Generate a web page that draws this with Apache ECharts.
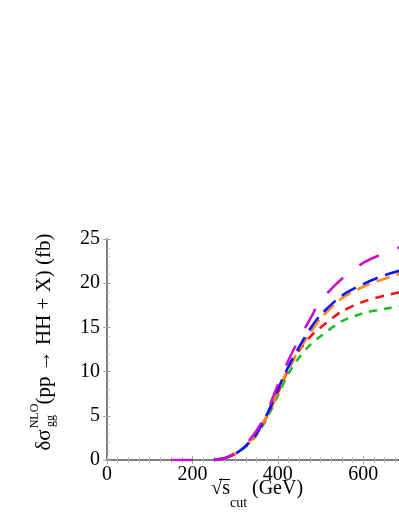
<!DOCTYPE html>
<html>
<head>
<meta charset="utf-8">
<script src="https://cdn.jsdelivr.net/npm/echarts@6/dist/echarts.min.js"></script>
<style>
  html, body { margin: 0; padding: 0; background: #fff; }
  #main { width: 399px; height: 516px; }
</style>
</head>
<body>
<div id="main"></div>
<script>
const xCut = [250, 275, 300, 325, 350, 375, 400, 425, 450, 475, 500, 550, 600, 650, 700]
const xMagenta = [150, 200, 250, 275, 300, 325, 350, 375, 400, 425, 450, 475, 500, 550, 600, 650, 700]
const magenta = [0, 0, 0, 0.2, 0.8, 1.8, 3.3, 5.5, 8.5, 11.3, 13.7, 15.9, 18.0, 20.5, 22.3, 23.4, 24.3]
const blue = [0, 0.2, 0.7, 1.6, 3.0, 5.2, 8.0, 10.6, 12.8, 14.8, 16.4, 18.6, 19.9, 20.9, 21.6]
const orange = [0, 0.2, 0.7, 1.6, 3.0, 5.1, 7.8, 10.4, 12.5, 14.3, 16.0, 18.3, 19.6, 20.5, 21.3]
const red = [0, 0.2, 0.7, 1.6, 2.9, 5.0, 7.6, 10.3, 12.4, 13.9, 15.0, 16.8, 17.9, 18.6, 19.1]
const green = [0, 0.2, 0.7, 1.5, 2.8, 4.8, 7.3, 9.8, 11.6, 13.0, 14.0, 15.7, 16.6, 17.1, 17.5]
const yTicks = [0, 5, 10, 15, 20, 25]

function pairs(xs, ys) {
  return xs.map(function (x, i) { return [x, ys[i]] })
}

const chart = echarts.init(document.getElementById('main'), null, { renderer: 'canvas' })
const serif = 'Liberation Serif'
const frame = { show: true, lineStyle: { color: '#777', width: 1.5 } }
const majorTick = { show: true, inside: true, length: 4, lineStyle: { color: '#aaa', width: 1 } }
const minorTick = { show: true, splitNumber: 8, length: 3, lineStyle: { color: '#bbb', width: 1 } }

function line(name, data, color, dash) {
  return {
    name: name,
    type: 'line',
    data: data,
    smooth: 0.3,
    symbol: 'none',
    xAxisIndex: 0,
    yAxisIndex: 0,
    lineStyle: { color: color, width: 2.6, type: dash },
    z: 3,
  }
}

const option = {
  backgroundColor: '#fff',
  animation: false,
  grid: { left: 107, top: 239, width: 299, height: 221, containLabel: false, outerBoundsMode: 'none' },
  xAxis: [
    {
      type: 'value', min: 0, max: 700, interval: 200,
      axisLine: frame, axisTick: majorTick, minorTick: minorTick,
      splitLine: { show: false },
      axisLabel: { color: '#000', fontFamily: serif, fontSize: 20, margin: 5, showMaxLabel: false },
    },
    {
      type: 'value', position: 'top', min: 0, max: 700, interval: 200,
      axisLine: frame, axisTick: majorTick, minorTick: minorTick,
      splitLine: { show: false }, axisLabel: { show: false },
    },
  ],
  yAxis: [
    {
      type: 'value', min: 0, max: 25, interval: 5,
      axisLine: frame, axisTick: majorTick,
      minorTick: { show: true, splitNumber: 5, length: 3, lineStyle: { color: '#bbb', width: 1 } },
      splitLine: { show: false },
      axisLabel: {
        color: '#000', fontFamily: serif, fontSize: 20, margin: 7,
        formatter: function (v) { return yTicks.indexOf(v) >= 0 ? String(v) : '' },
      },
    },
    {
      type: 'value', position: 'right', min: 0, max: 25, interval: 5,
      axisLine: frame, axisTick: majorTick, splitLine: { show: false }, axisLabel: { show: false },
    },
  ],
  graphic: [
    // y axis title, rotated
    { type: 'text', x: 44, y: 440, rotation: Math.PI / 2,
      style: { text: 'δσ', font: '21px ' + serif, fill: '#000', align: 'center', verticalAlign: 'middle' } },
    { type: 'text', x: 35, y: 416, rotation: Math.PI / 2,
      style: { text: 'NLO', font: '12px ' + serif, fill: '#000', align: 'center', verticalAlign: 'middle' } },
    { type: 'text', x: 51, y: 421, rotation: Math.PI / 2,
      style: { text: 'gg', font: '12px ' + serif, fill: '#000', align: 'center', verticalAlign: 'middle' } },
    { type: 'text', x: 44, y: 319, rotation: Math.PI / 2,
      style: { text: '(pp → HH + X) (fb)', font: '21px ' + serif, fill: '#000', align: 'center', verticalAlign: 'middle' } },
    // x axis title
    { type: 'text', x: 230, y: 489,
      style: { text: '√s', font: '20px ' + serif, fill: '#000', align: 'right', verticalAlign: 'middle' } },
    { type: 'line', shape: { x1: 219, y1: 479.5, x2: 230, y2: 479.5 },
      style: { stroke: '#000', lineWidth: 1 } },
    { type: 'text', x: 230, y: 503,
      style: { text: 'cut', font: '14px ' + serif, fill: '#000', align: 'left', verticalAlign: 'middle' } },
    { type: 'text', x: 252, y: 489,
      style: { text: '(GeV)', font: '20px ' + serif, fill: '#000', align: 'left', verticalAlign: 'middle' } },
  ],
  series: [
    line('green', pairs(xCut, green), '#22bb22', [8, 7]),
    line('red', pairs(xCut, red), '#ff1010', [9, 7]),
    line('orange', pairs(xCut, orange), '#ff8c1a', [14, 7]),
    line('blue', pairs(xCut, blue), '#0a14ff', [16, 8]),
    line('magenta', pairs(xMagenta, magenta), '#cc11cc', [22, 20]),
  ],
}
chart.setOption(option)
</script>
</body>
</html>
